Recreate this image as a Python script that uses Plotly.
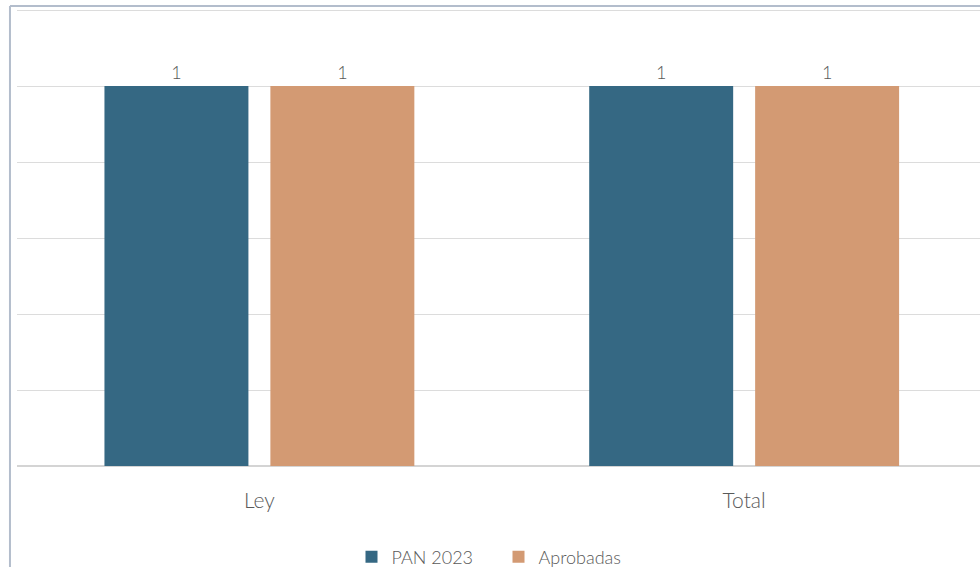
import plotly.graph_objects as go

categories = ["Ley", "Total"]
pan_2023 = [1, 1]
aprobadas = [1, 1]
series_names = ["PAN 2023", "Aprobadas"]
colors = ["#356883", "#D39A73"]

FONT = "Lato, 'Open Sans', sans-serif"

fig = go.Figure()
for name, vals, col, off in [(series_names[0], pan_2023, colors[0], -0.3196),
                             (series_names[1], aprobadas, colors[1], 0.0227)]:
    fig.add_trace(go.Bar(
        x=categories, y=vals, name=name, marker=dict(color=col, line=dict(width=0)),
        width=0.297, offset=off,
        text=[str(v) for v in vals], textposition="outside",
        textfont=dict(family=FONT, size=18, color="#595959", weight=300),
        cliponaxis=False,
    ))

fig.update_layout(
    width=980, height=567,
    margin=dict(l=17, r=0, t=8, b=101, autoexpand=False),
    paper_bgcolor="white", plot_bgcolor="white",
    barmode="group",
    showlegend=True,
    legend=dict(orientation="h", x=0.500, xanchor="center", y=-0.1987, yanchor="middle",
                font=dict(family=FONT, size=18, color="#595959", weight=300),
                entrywidth=102, tracegroupgap=0),
    xaxis=dict(range=[-0.5, 1.4866], showgrid=False, showline=False, ticks="",
               tickfont=dict(family=FONT, size=21, color="#595959", weight=300)),
    yaxis=dict(range=[0, 1.2053], tickvals=[0, 0.2, 0.4, 0.6, 0.8, 1.0, 1.2],
               showticklabels=False, showgrid=True,
               gridcolor="#dcdcdc", gridwidth=1, zeroline=True,
               zerolinecolor="#d4d4d4", zerolinewidth=2, showline=False, ticks=""),
    shapes=[
        dict(type="line", xref="paper", yref="paper", x0=-0.0073, x1=1.02, y0=1.0044, y1=1.0044,
             line=dict(color="#b3bdcc", width=2)),
        dict(type="line", xref="paper", yref="paper", x0=-0.0073, x1=-0.0073, y0=1.0044, y1=-0.23,
             line=dict(color="#b3bdcc", width=2)),
    ],
)
fig.update_xaxes(ticklabelstandoff=20)

fig.write_html("out.html", config={"displayModeBar": False},
               post_script="document.body.style.margin='0';")
